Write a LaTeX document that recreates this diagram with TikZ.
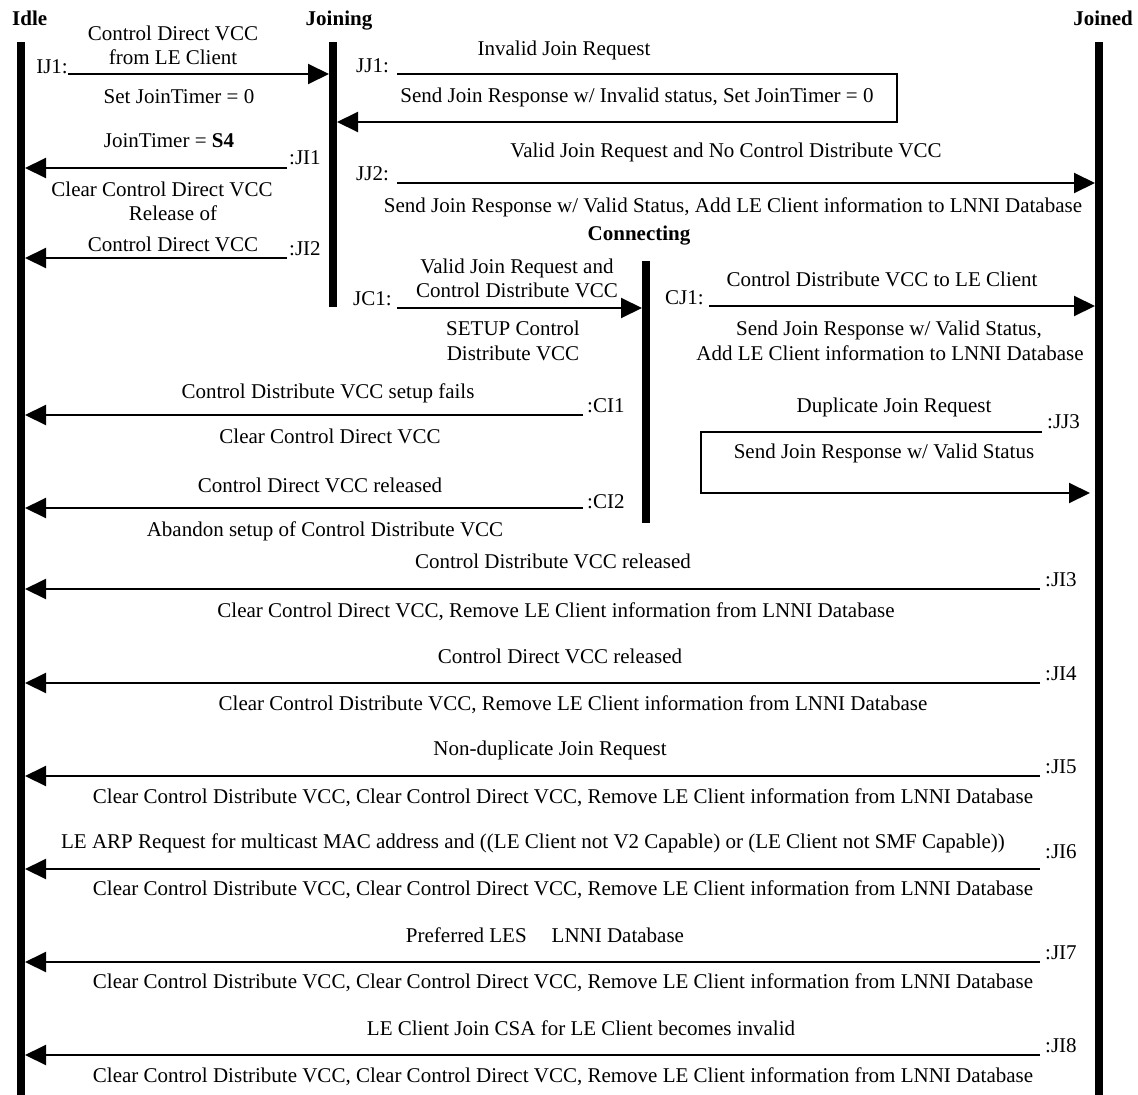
\documentclass[tikz,border=0pt]{standalone}
\usepackage{fontspec}
\setmainfont{Liberation Serif}
\usetikzlibrary{arrows.meta}
\begin{document}
\begin{tikzpicture}[x=1pt,y=-1pt,
  every node/.style={inner sep=0pt, font=\fontsize{21}{25}\selectfont},
  txt/.style={anchor=base},
  ltxt/.style={anchor=base west},
  rtxt/.style={anchor=base east},
  statename/.style={font=\fontsize{21}{25}\selectfont\bfseries},
  life/.style={line width=8pt},
  msg/.style={line width=2pt, -{Triangle[length=21pt,width=20pt]}},
  seg/.style={line width=2pt}]
\useasboundingbox (0,0) rectangle (1138,1095);

% ---- state lifelines ----
\coordinate (idleT) at (21,42);     \coordinate (idleB) at (21,1095);
\coordinate (joiningT) at (333,42); \coordinate (joiningB) at (333,307);
\coordinate (connT) at (645.5,261); \coordinate (connB) at (645.5,523);
\coordinate (joinedT) at (1099,42); \coordinate (joinedB) at (1099,1095);
\draw[life] (idleT) -- (idleB);
\draw[life] (joiningT) -- (joiningB);
\draw[life] (connT) -- (connB);
\draw[life] (joinedT) -- (joinedB);

% edges of the lifelines where arrow tips land
\coordinate (idleE) at (25,0);
\coordinate (joiningW) at (329,0);
\coordinate (joiningE) at (337,0);
\coordinate (connW) at (642,0);
\coordinate (joinedW) at (1095,0);

% ---- state names ----
\node[statename, anchor=base west] (sIdle) at (12,25) {Idle};
\node[statename, anchor=base] (sJoining) at (339,25) {Joining};
\node[statename, anchor=base] (sJoined) at (1103,25) {Joined};
\node[statename, anchor=base] (sConn) at (639,240) {Connecting};

% ---- IJ1 ----
\node[txt] (ij1a) at (173,40) {Control Direct VCC};
\node[txt] (ij1b) at (173,64) {from LE Client};
\node[rtxt] (ij1l) at (68,73) {IJ1:};
\coordinate (ij1) at (68,74);
\draw[msg] (ij1) -- (ij1 -| joiningW);
\node[txt] (ij1c) at (179,103) {Set JoinTimer = 0};

% ---- JI1 ----
\node[txt] (ji1a) at (169,147) {JoinTimer = \textbf{S4}};
\coordinate (ji1) at (287,168);
\draw[msg] (ji1) -- (ji1 -| idleE);
\node[ltxt] (ji1l) at (289,164) {:JI1};
\node[txt] (ji1c) at (162,196) {Clear Control Direct VCC};

% ---- JI2 ----
\node[txt] (ji2a) at (173,220) {Release of};
\node[txt] (ji2b) at (173,251) {Control Direct VCC};
\coordinate (ji2) at (287,258);
\draw[msg] (ji2) -- (ji2 -| idleE);
\node[ltxt] (ji2l) at (289,255) {:JI2};

% ---- JJ1 (loop back to Joining) ----
\node[txt] (jj1a) at (564,55) {Invalid Join Request};
\node[ltxt] (jj1l) at (356,72) {JJ1:};
\coordinate (jj1s) at (397,74);
\coordinate (jj1c1) at (897,74);
\coordinate (jj1c2) at (897,122);
\draw[msg] (jj1s) -- (jj1c1) -- (jj1c2) -- (jj1c2 -| joiningE);
\node[txt] (jj1b) at (637,102) {Send Join Response w/ Invalid status, Set JoinTimer = 0};

% ---- JJ2 ----
\node[txt] (jj2a) at (726,157) {Valid Join Request and No Control Distribute VCC};
\node[ltxt] (jj2l) at (356,180) {JJ2:};
\coordinate (jj2) at (397,183);
\draw[msg] (jj2) -- (jj2 -| joinedW);
\node[txt] (jj2b) at (733,212) {Send Join Response w/ Valid Status, Add LE Client information to LNNI Database};

% ---- JC1 ----
\node[txt] (jc1a) at (517,273) {Valid Join Request and};
\node[txt] (jc1b) at (517,297) {Control Distribute VCC};
\node[ltxt] (jc1l) at (353,305) {JC1:};
\coordinate (jc1) at (397,308);
\draw[msg] (jc1) -- (jc1 -| connW);
\node[txt] (jc1c) at (513,335) {SETUP Control};
\node[txt] (jc1d) at (513,360) {Distribute VCC};

% ---- CJ1 ----
\node[txt] (cj1a) at (882,286) {Control Distribute VCC to LE Client};
\node[ltxt] (cj1l) at (665,304) {CJ1:};
\coordinate (cj1) at (709,306);
\draw[msg] (cj1) -- (cj1 -| joinedW);
\node[txt] (cj1b) at (889,335) {Send Join Response w/ Valid Status,};
\node[txt] (cj1c) at (890,360) {Add LE Client information to LNNI Database};

% ---- CI1 ----
\node[txt] (ci1a) at (328,398) {Control Distribute VCC setup fails};
\coordinate (ci1) at (583,415);
\draw[msg] (ci1) -- (ci1 -| idleE);
\node[ltxt] (ci1l) at (587,412) {:CI1};
\node[txt] (ci1b) at (330,443) {Clear Control Direct VCC};

% ---- JJ3 (loop back to Joined) ----
\node[txt] (jj3a) at (894,412) {Duplicate Join Request};
\coordinate (jj3s) at (1042,432);
\coordinate (jj3c1) at (701,432);
\coordinate (jj3c2) at (701,493);
\coordinate (jj3e) at (1090,493);
\draw[msg] (jj3s) -- (jj3c1) -- (jj3c2) -- (jj3e);
\node[ltxt] (jj3l) at (1047,428) {:JJ3};
\node[txt] (jj3b) at (884,458) {Send Join Response w/ Valid Status};

% ---- CI2 ----
\node[txt] (ci2a) at (320,492) {Control Direct VCC released};
\coordinate (ci2) at (583,508);
\draw[msg] (ci2) -- (ci2 -| idleE);
\node[ltxt] (ci2l) at (587,508) {:CI2};
\node[txt] (ci2b) at (325,536) {Abandon setup of Control Distribute VCC};

% ---- JI3 .. JI8 ----
\coordinate (ji3) at (1040,589);
\draw[msg] (ji3) -- (ji3 -| idleE);
\node[ltxt] (ji3l) at (1045,586) {:JI3};
\node[txt] (ji3a) at (553,568) {Control Distribute VCC released};
\node[txt] (ji3b) at (556,617) {Clear Control Direct VCC, Remove LE Client information from LNNI Database};

\coordinate (ji4) at (1040,683);
\draw[msg] (ji4) -- (ji4 -| idleE);
\node[ltxt] (ji4l) at (1045,680) {:JI4};
\node[txt] (ji4a) at (560,663) {Control Direct VCC released};
\node[txt] (ji4b) at (573,710) {Clear Control Distribute VCC, Remove LE Client information from LNNI Database};

\coordinate (ji5) at (1040,776);
\draw[msg] (ji5) -- (ji5 -| idleE);
\node[ltxt] (ji5l) at (1045,773) {:JI5};
\node[txt] (ji5a) at (550,755) {Non-duplicate Join Request};
\node[txt] (ji5b) at (563,803) {Clear Control Distribute VCC, Clear Control Direct VCC, Remove LE Client information from LNNI Database};

\coordinate (ji6) at (1040,869);
\draw[msg] (ji6) -- (ji6 -| idleE);
\node[ltxt] (ji6l) at (1045,858) {:JI6};
\node[txt] (ji6a) at (533,848) {LE ARP Request for multicast MAC address and ((LE Client not V2 Capable) or (LE Client not SMF Capable))};
\node[txt] (ji6b) at (563,895) {Clear Control Distribute VCC, Clear Control Direct VCC, Remove LE Client information from LNNI Database};

\coordinate (ji7) at (1040,962);
\draw[msg] (ji7) -- (ji7 -| idleE);
\node[ltxt] (ji7l) at (1045,959) {:JI7};
\node[txt] (ji7a) at (545,942) {Preferred LES\hspace{25pt}LNNI Database};
\node[txt] (ji7b) at (563,988) {Clear Control Distribute VCC, Clear Control Direct VCC, Remove LE Client information from LNNI Database};

\coordinate (ji8) at (1040,1055);
\draw[msg] (ji8) -- (ji8 -| idleE);
\node[ltxt] (ji8l) at (1045,1052) {:JI8};
\node[txt] (ji8a) at (581,1035) {LE Client Join CSA for LE Client becomes invalid};
\node[txt] (ji8b) at (563,1082) {Clear Control Distribute VCC, Clear Control Direct VCC, Remove LE Client information from LNNI Database};
\end{tikzpicture}
\end{document}
